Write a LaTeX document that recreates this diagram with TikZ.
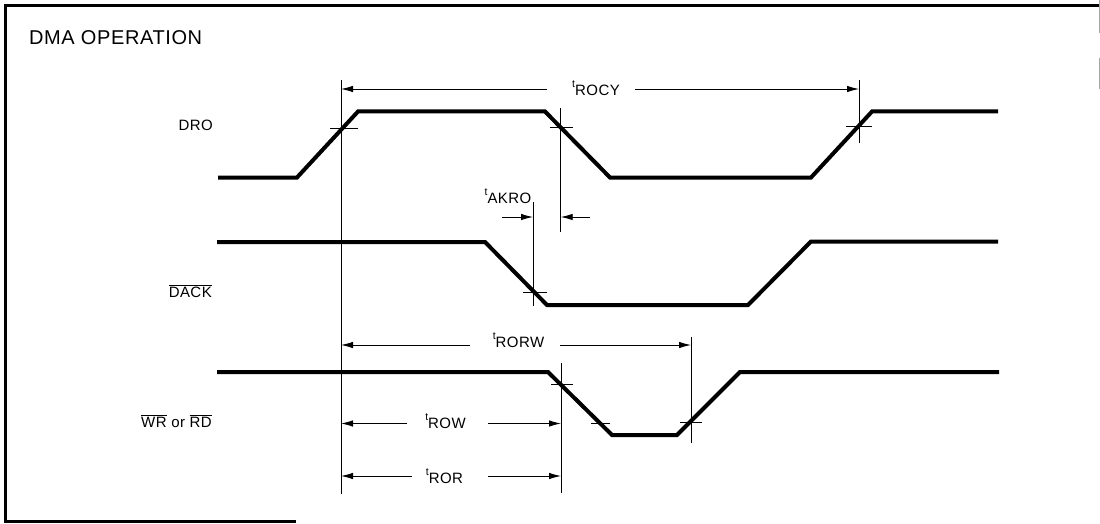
\documentclass[tikz,border=0pt]{standalone}
\usepackage{fontspec}
\setmainfont[LetterSpace=3]{Liberation Sans}
\usetikzlibrary{arrows.meta}
\newcommand{\tlabel}[1]{{\fontsize{10.5}{12}\selectfont t}\raisebox{-7.5pt}{\fontsize{15}{16}\selectfont #1}}
\newcommand{\ovl}[1]{$\overline{\mbox{#1}}$}
\tikzset{
  frame/.style={line width=2.4pt,black},
  wave/.style={line width=4pt,line join=miter,line cap=butt,black},
  guide/.style={line width=0.9pt,black},
  tick/.style={line width=0.9pt,black},
  dim/.style={line width=0.9pt,black,-{Latex[length=12pt,width=6.5pt]}},
  sig/.style={inner sep=0pt,font=\fontsize{15}{17}\selectfont,anchor=base east},
  tlab/.style={inner sep=0pt,anchor=center},
}
\begin{document}
\begin{tikzpicture}[x=1pt,y=-1pt]
\useasboundingbox (0,0) rectangle (1100,524);
\fill[white] (0,0) rectangle (1100,524);
% frame
\draw[frame] (4,5.5) -- (1100,5.5);
\draw[frame] (5.5,4) -- (5.5,522);
\draw[frame] (4,521.5) -- (296,521.5);
\draw[line width=1pt,black!35] (1099,0) -- (1099,33) (1099,58) -- (1099,89);
% title
\node[inner sep=0pt,anchor=base west,font=\fontsize{20}{22}\selectfont] (title) at (29,45) {DMA OPERATION};
% signal labels
\node[sig] (ldro) at (213,131) {DRO};
\node[sig] (ldack) at (212,297) {\ovl{DACK}};
\node[sig] (lwr) at (212,427) {\ovl{WR} or \ovl{RD}};
% DRO waveform
\coordinate (d0) at (218,177.5); \coordinate (d1) at (297,177.5);
\coordinate (d2) at (358,111.5); \coordinate (d3) at (545,111.5);
\coordinate (d4) at (610,177.5); \coordinate (d5) at (811,177.5);
\coordinate (d6) at (872,111.5); \coordinate (d7) at (998,111.5);
\draw[wave] (d0) -- (d1) -- (d2) -- (d3) -- (d4) -- (d5) -- (d6) -- (d7);
% DACK waveform
\coordinate (a0) at (217,242); \coordinate (a1) at (485,242);
\coordinate (a2) at (547,305); \coordinate (a3) at (748,305);
\coordinate (a4) at (811,241.5); \coordinate (a5) at (998,241.5);
\draw[wave] (a0) -- (a1) -- (a2) -- (a3) -- (a4) -- (a5);
% WR/RD waveform
\coordinate (w0) at (217,372); \coordinate (w1) at (548,372);
\coordinate (w2) at (612,435); \coordinate (w3) at (677,435);
\coordinate (w4) at (740,372); \coordinate (w5) at (999,372);
\draw[wave] (w0) -- (w1) -- (w2) -- (w3) -- (w4) -- (w5);
% guide lines
\coordinate (v1t) at (341,80);    \coordinate (v1b) at (341,494);
\coordinate (v2t) at (560.7,108); \coordinate (v2b) at (560.7,232);
\coordinate (v3t) at (533,202);   \coordinate (v3b) at (533,306);
\coordinate (v4t) at (561,363);   \coordinate (v4b) at (561,493);
\coordinate (v5t) at (691,337);   \coordinate (v5b) at (691,443);
\coordinate (v6t) at (859,80);    \coordinate (v6b) at (859,143);
\draw[guide] (v1t) -- (v1b);
\draw[guide] (v2t) -- (v2b);
\draw[guide] (v3t) -- (v3b);
\draw[guide] (v4t) -- (v4b);
\draw[guide] (v5t) -- (v5b);
\draw[guide] (v6t) -- (v6b);
% crossing ticks
\draw[tick] (330,128) -- (358,128);
\draw[tick] (550,127.5) -- (573,127.5);
\draw[tick] (846,126) -- (872,126);
\draw[tick] (523,292) -- (547,292);
\draw[tick] (551,384) -- (573,384);
\draw[tick] (591,423) -- (610,423);
\draw[tick] (680,422) -- (702,422);
% tROCY
\node[tlab] (tROCY) at (596,88) {\tlabel{ROCY}};
\coordinate (c1) at (547,89); \coordinate (c1e) at (341,89);
\coordinate (c2) at (635,89); \coordinate (c2e) at (859,89);
\draw[dim] (c1) -- (c1e);
\draw[dim] (c2) -- (c2e);
% tAKRO
\node[tlab] (tAKRO) at (508,196) {\tlabel{AKRO}};
\coordinate (k1) at (502,217); \coordinate (k1e) at (533,217);
\coordinate (k2) at (590,217); \coordinate (k2e) at (560.7,217);
\draw[dim] (k1) -- (k1e);
\draw[dim] (k2) -- (k2e);
% tRORW
\node[tlab] (tRORW) at (518.5,340) {\tlabel{RORW}};
\coordinate (r1) at (470,345); \coordinate (r1e) at (341,345);
\coordinate (r2) at (560,345); \coordinate (r2e) at (691,345);
\draw[dim] (r1) -- (r1e);
\draw[dim] (r2) -- (r2e);
% tROW
\node[tlab] (tROW) at (445.5,421) {\tlabel{ROW}};
\coordinate (o1) at (407,423.5); \coordinate (o1e) at (341,423.5);
\coordinate (o2) at (488,423.5); \coordinate (o2e) at (561,423.5);
\draw[dim] (o1) -- (o1e);
\draw[dim] (o2) -- (o2e);
% tROR
\node[tlab] (tROR) at (444.5,476) {\tlabel{ROR}};
\coordinate (p1) at (412,476); \coordinate (p1e) at (341,476);
\coordinate (p2) at (488,476); \coordinate (p2e) at (561,476);
\draw[dim] (p1) -- (p1e);
\draw[dim] (p2) -- (p2e);
\end{tikzpicture}
\end{document}
